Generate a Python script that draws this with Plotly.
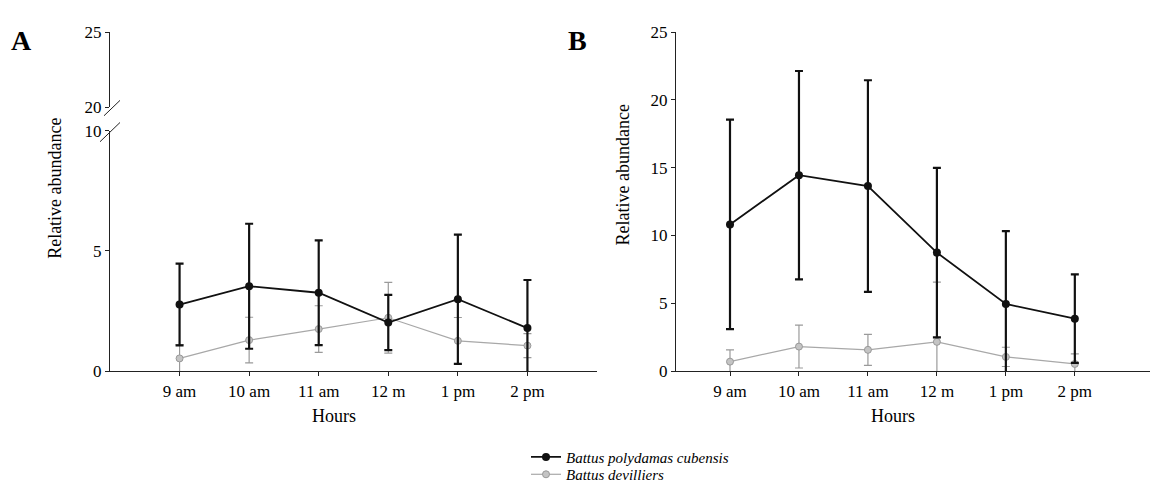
import plotly.graph_objects as go

# ---------------- data ----------------
hours = ["9 am", "10 am", "11 am", "12 m", "1 pm", "2 pm"]

# Panel A
a_poly_mean = [2.77, 3.53, 3.26, 2.02, 2.99, 1.79]
a_poly_err = [1.70, 2.60, 2.18, 1.15, 2.69, 2.00]
a_dev_mean = [0.53, 1.29, 1.75, 2.22, 1.26, 1.06]
a_dev_err = [0.57, 0.95, 0.97, 1.47, 0.97, 0.50]

# Panel B
b_poly_mean = [10.82, 14.45, 13.65, 8.74, 4.95, 3.87]
b_poly_err = [7.72, 7.68, 7.80, 6.25, 5.38, 3.26]
b_dev_mean = [0.70, 1.81, 1.57, 2.16, 1.05, 0.53]
b_dev_err = [0.87, 1.58, 1.14, 4.40, 0.71, 0.74]

series_names = ["Battus polydamas cubensis", "Battus devilliers"]

# ---------------- style ----------------
W, H = 1162, 498
FONT = "Liberation Serif"
BLACK = "#111111"
GRAY_LINE = "#a8a8a8"
GRAY_FILL = "#c4c4c4"
xpos = list(range(1, len(hours) + 1))


def px(x):
    return x / W


def py(y):
    return 1 - y / H


fig = go.Figure()


def add_pair(xa, ya, poly_m, poly_e, dev_m, dev_e, show):
    fig.add_trace(go.Scatter(
        x=xpos, y=dev_m, xaxis=xa, yaxis=ya, mode="lines+markers",
        name=series_names[1], showlegend=show, legend="legend2",
        line=dict(color=GRAY_LINE, width=1.2),
        marker=dict(size=7, color=GRAY_FILL, line=dict(color="#999999", width=1)),
        error_y=dict(type="data", array=dev_e, visible=True, color="#9a9a9a",
                     thickness=1.2, width=4),
        hoverinfo="skip"))
    fig.add_trace(go.Scatter(
        x=xpos, y=poly_m, xaxis=xa, yaxis=ya, mode="lines+markers",
        name=series_names[0], showlegend=show, legend="legend",
        line=dict(color=BLACK, width=1.8),
        marker=dict(size=8, color=BLACK),
        error_y=dict(type="data", array=poly_e, visible=True, color=BLACK,
                     thickness=2.2, width=4),
        hoverinfo="skip"))


add_pair("x", "y", a_poly_mean, a_poly_err, a_dev_mean, a_dev_err, True)
add_pair("x2", "y2", b_poly_mean, b_poly_err, b_dev_mean, b_dev_err, False)

# dummy invisible trace so the broken upper axis of panel A is drawn
fig.add_trace(go.Scatter(x=[1], y=[22], xaxis="x", yaxis="y3", mode="markers",
                         marker=dict(opacity=0), showlegend=False, hoverinfo="skip"))

tickfont = dict(family=FONT, size=17, color="black")
axis_common = dict(showline=True, linecolor="#222222", linewidth=1, ticks="outside",
                   ticklen=4, tickcolor="#222222", showgrid=False, zeroline=False,
                   tickfont=tickfont, fixedrange=True)

legfont = dict(family=FONT, size=15, style="italic", color="black")

fig.update_layout(
    width=W, height=H,
    margin=dict(l=0, r=0, t=0, b=0),
    paper_bgcolor="white", plot_bgcolor="white",
    xaxis=dict(domain=[px(110), px(597)], range=[0, 7], anchor="y",
               tickvals=xpos, ticktext=hours, **axis_common),
    yaxis=dict(domain=[py(376.5), py(126.5)], range=[0, 10], anchor="x",
               tickvals=[0, 5, 10], **axis_common),
    yaxis3=dict(domain=[py(102), py(24)], range=[20, 25], anchor="x",
                tickvals=[20, 25], **axis_common),
    xaxis2=dict(domain=[px(676), px(1150)], range=[0.217, 7.09], anchor="y2",
                tickvals=xpos, ticktext=hours, **axis_common),
    yaxis2=dict(domain=[py(376.5), py(24)], range=[0, 25], anchor="x2",
                tickvals=[0, 5, 10, 15, 20, 25], **axis_common),
    legend=dict(x=px(526), y=py(466), xanchor="left", yanchor="middle",
                font=legfont, itemwidth=30, bgcolor="rgba(0,0,0,0)", borderwidth=0),
    legend2=dict(x=px(526), y=py(484), xanchor="left", yanchor="middle",
                 font=legfont, itemwidth=30, bgcolor="rgba(0,0,0,0)", borderwidth=0),
    showlegend=True,
)

annots = [
    dict(text="<b>A</b>", x=px(21), y=py(33), font=dict(family=FONT, size=28)),
    dict(text="<b>B</b>", x=px(577), y=py(33), font=dict(family=FONT, size=28)),
    dict(text="Relative abundance", x=px(55), y=py(187), textangle=-90,
         font=dict(family=FONT, size=18)),
    dict(text="Relative abundance", x=px(623), y=py(173), textangle=-90,
         font=dict(family=FONT, size=18)),
    dict(text="Hours", x=px(334), y=py(423), font=dict(family=FONT, size=18)),
    dict(text="Hours", x=px(893), y=py(423), font=dict(family=FONT, size=18)),
]
for a in annots:
    a.update(xref="paper", yref="paper", showarrow=False, xanchor="center",
             yanchor="middle")
    a["font"]["color"] = "black"
    fig.add_annotation(**a)

# axis break marks
for (x0, y0, x1, y1) in [(104, 111, 120, 95), (100, 138, 120, 118)]:
    fig.add_shape(type="line", xref="paper", yref="paper",
                  x0=px(x0), y0=py(y0), x1=px(x1), y1=py(y1),
                  line=dict(color="#222222", width=1))

fig.write_html("out.html")
